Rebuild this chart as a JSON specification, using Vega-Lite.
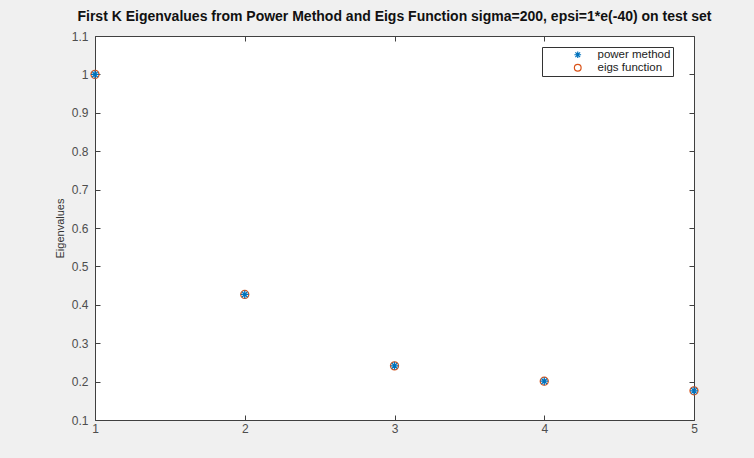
{
  "$schema": "https://vega.github.io/schema/vega-lite/v6.json",
  "width": 599,
  "height": 384,
  "autosize": {"type": "none"},
  "padding": {"left": 95, "top": 36, "right": 60, "bottom": 38},
  "background": "#f0f0f0",
  "title": {
    "text": "First K Eigenvalues from Power Method and Eigs Function sigma=200, epsi=1*e(-40) on test set",
    "font": "Liberation Sans",
    "fontSize": 14,
    "fontWeight": "bold",
    "color": "#111111",
    "anchor": "middle",
    "offset": 6
  },
  "config": {
    "view": {"fill": "white", "stroke": "#404040", "strokeWidth": 1},
    "axis": {
      "domain": false,
      "grid": false,
      "tickColor": "#404040",
      "tickSize": -5,
      "labelFont": "Liberation Sans",
      "labelFontSize": 12,
      "labelColor": "#4d4d4d",
      "labelPadding": 12,
      "labelFlush": false,
      "titleFont": "Liberation Sans",
      "titleFontSize": 11,
      "titleFontWeight": "normal",
      "titleColor": "#333333",
      "titlePadding": 6
    },
    "legend": {
      "orient": "none",
      "legendX": 447,
      "legendY": 11,
      "strokeColor": "#333333",
      "fillColor": "white",
      "padding": 2,
      "symbolOffset": 28,
      "labelOffset": 14,
      "labelFont": "Liberation Sans",
      "labelFontSize": 11.5,
      "labelColor": "#222222",
      "rowPadding": 0,
      "symbolStrokeWidth": 1.2,
      "symbolSize": 45
    }
  },
  "data": {
    "values": [
      {"k": 1, "value": 1.0, "series": "eigs function"},
      {"k": 2, "value": 0.427, "series": "eigs function"},
      {"k": 3, "value": 0.241, "series": "eigs function"},
      {"k": 4, "value": 0.201, "series": "eigs function"},
      {"k": 5, "value": 0.176, "series": "eigs function"},
      {"k": 1, "value": 1.0, "series": "power method"},
      {"k": 2, "value": 0.427, "series": "power method"},
      {"k": 3, "value": 0.241, "series": "power method"},
      {"k": 4, "value": 0.201, "series": "power method"},
      {"k": 5, "value": 0.176, "series": "power method"}
    ]
  },
  "layer": [
    {
      "mark": {"type": "point", "filled": false, "strokeWidth": 1.3, "size": 64, "opacity": 1},
      "encoding": {
        "x": {
          "field": "k", "type": "quantitative",
          "scale": {"domain": [1, 5], "nice": false, "zero": false},
          "axis": {"orient": "bottom", "values": [1, 2, 3, 4, 5], "format": "d", "title": null, "labelPadding": 8}
        },
        "y": {
          "field": "value", "type": "quantitative",
          "scale": {"domain": [0.1, 1.1], "nice": false, "zero": false},
          "axis": {"orient": "left", "values": [0.1, 0.2, 0.3, 0.4, 0.5, 0.6, 0.7, 0.8, 0.9, 1, 1.1], "format": ".1~f", "title": "Eigenvalues"}
        },
        "shape": {
          "field": "series", "type": "nominal",
          "scale": {"domain": ["power method", "eigs function"], "range": ["M-1,0L1,0M0,-1L0,1M-0.7,-0.7L0.7,0.7M-0.7,0.7L0.7,-0.7", "circle"]},
          "legend": {"title": null}
        },
        "color": {
          "field": "series", "type": "nominal",
          "scale": {"domain": ["power method", "eigs function"], "range": ["#0072BD", "#D95319"]},
          "legend": {"title": null}
        }
      }
    },
    {
      "mark": {"type": "point", "opacity": 0},
      "encoding": {
        "x": {
          "field": "k", "type": "quantitative",
          "scale": {"domain": [1, 5], "nice": false, "zero": false},
          "axis": {"orient": "top", "values": [1, 2, 3, 4, 5], "labels": false, "title": null}
        },
        "y": {
          "field": "value", "type": "quantitative",
          "scale": {"domain": [0.1, 1.1], "nice": false, "zero": false},
          "axis": {"orient": "right", "values": [0.1, 0.2, 0.3, 0.4, 0.5, 0.6, 0.7, 0.8, 0.9, 1, 1.1], "labels": false, "title": null}
        }
      }
    }
  ],
  "resolve": {"scale": {"x": "independent", "y": "independent"}}
}
